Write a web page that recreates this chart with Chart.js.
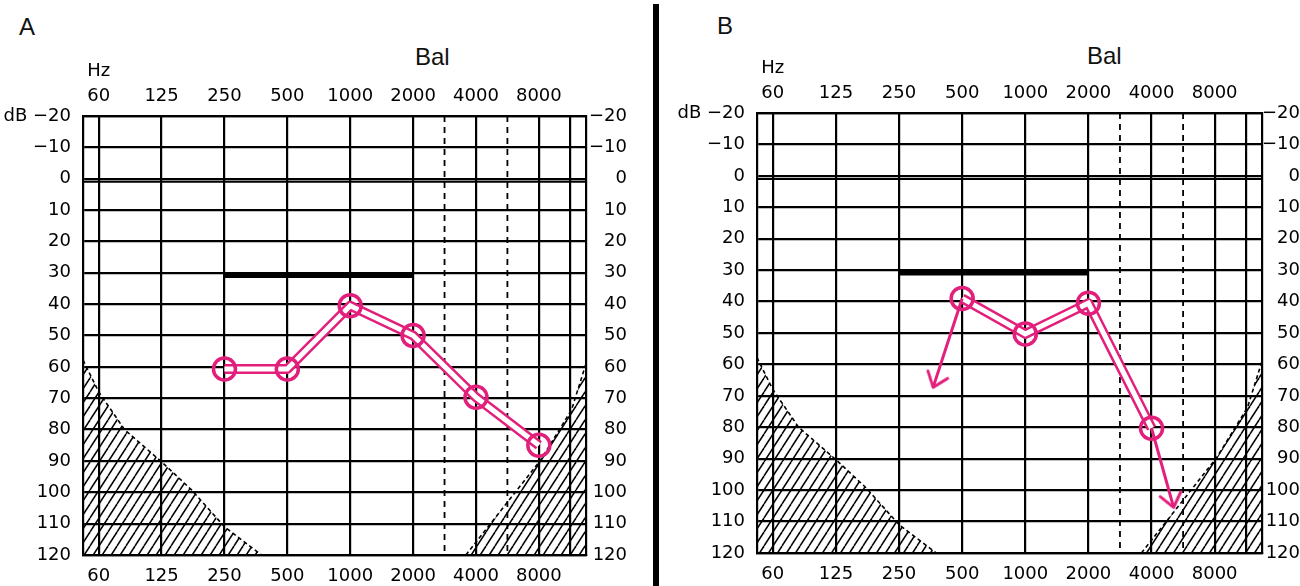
<!DOCTYPE html>
<html>
<head>
<meta charset="utf-8">
<script src="https://cdn.jsdelivr.net/npm/chart.js@4.4.1/dist/chart.umd.min.js"></script>
<style>
  body { margin: 0; background: #fff; width: 1300px; height: 586px; position: relative; overflow: hidden; font-family: 'Liberation Sans', Arial, sans-serif; }
  canvas { position: absolute; top: 0; }
  .lbl { position: absolute; font-size: 24px; line-height: 24px; color: #111; }
  #divider { position: absolute; left: 653px; top: 4px; width: 6px; height: 582px; background: #000; }
</style>
</head>
<body>
<div class="lbl" style="left:19px;top:15px">A</div>
<div class="lbl" style="left:415px;top:45px">Bal</div>
<div id="divider"></div>
<div class="lbl" style="left:717px;top:14px">B</div>
<div class="lbl" style="left:1087px;top:44px">Bal</div>
<canvas id="chartA" width="627" height="586" style="left:0"></canvas>
<canvas id="chartB" width="626" height="586" style="left:674px"></canvas>
<script>
// x positions are octave steps: 0 = 60 Hz ... 7 = 8000 Hz
const freqLabels = ['60', '125', '250', '500', '1000', '2000', '4000', '8000'];
const gridIdx = [0, 1, 2, 3, 4, 5, 6, 7, 7.5];
const dashedIdx = [5.5, 6.5];   // 3000 / 6000 Hz
const xMin = -0.25, xMax = 7.75;
const dbMin = -20, dbMax = 120;

// panel A thresholds
const aFreq = [2, 3, 4, 5, 6, 7];
const aDb = [60.7, 60.7, 40.5, 50, 69.7, 85];

// panel B thresholds
const bFreq = [3, 4, 5, 6];
const bDb = [39, 50.3, 40.5, 80.3];
// arrows (no response) leaving from point n of bFreq
const bArrowFrom = [0, 3];
const bArrowTipX = [2.54, 6.35];
const bArrowTipDb = [67.3, 105.5];

// thick band 250-2000 Hz
const bandFreq = [2, 5];
const bandDb = 30.8;

// hatched areas
const hatchLowX = [-0.25, 0, 0.41, 1, 1.48, 2, 2.59];
const hatchLowDb = [57.8, 68, 80, 90.3, 99.3, 111, 120];
const hatchHighX = [5.84, 6.37, 7.03, 7.52, 7.75];
const hatchHighDb = [120, 106.5, 89.7, 73.7, 59];

const PINK = '#e2207c';
const INK = '#000';
const FONT = { family: "'DejaVu Sans', sans-serif", size: 18 };

function hatchPattern() {
  const w = 9, h = 14;
  const c = document.createElement('canvas');
  c.width = w; c.height = h;
  const g = c.getContext('2d');
  g.strokeStyle = INK;
  g.lineWidth = 1.5;
  for (let n = 0; n <= 2; n++) {
    g.beginPath();
    g.moveTo((n - 1) * w, h);
    g.lineTo(n * w, 0);
    g.stroke();
  }
  return c.getContext('2d').createPattern(c, 'repeat');
}

function arrowHead() {
  const c = document.createElement('canvas');
  c.width = 44; c.height = 44;
  const g = c.getContext('2d');
  g.strokeStyle = PINK;
  g.lineWidth = 3;
  g.lineCap = 'round';
  g.lineJoin = 'round';
  g.beginPath();
  g.moveTo(22 - 10, 22 - 14);
  g.lineTo(22, 22);
  g.lineTo(22 + 11, 22 - 13);
  g.stroke();
  return c;
}

const pts = (xs, ys) => xs.map((x, i) => ({ x: x, y: Array.isArray(ys) ? ys[i] : ys }));
const dbText = v => (v < 0 ? '\u2212' + (-v) : String(v));

function buildChart(id, freq, db, arrows, box) {
  const pattern = hatchPattern();
  const head = arrowHead();
  const datasets = [
    { data: pts(freq, db), showLine: false, pointRadius: 11, pointBorderWidth: 3.5,
      pointBorderColor: PINK, pointBackgroundColor: 'rgba(0,0,0,0)', order: 0 },
    { data: pts(freq, db), borderColor: '#fff', borderWidth: 5, order: 2 },
    { data: pts(freq, db), borderColor: PINK, borderWidth: 10, borderJoinStyle: 'round', order: 3 },
    { data: pts(bandFreq, bandDb), borderColor: '#000', borderWidth: 5.5, order: 4 },
    { data: pts([xMin, xMax], 1), borderColor: INK, borderWidth: 2, order: 5 },
    { data: pts(hatchLowX, hatchLowDb), borderColor: INK, borderWidth: 1.6, borderDash: [4, 3],
      fill: { value: dbMax }, backgroundColor: pattern, order: 7 },
    { data: pts(hatchHighX, hatchHighDb), borderColor: INK, borderWidth: 1.6, borderDash: [4, 3],
      fill: { value: dbMax }, backgroundColor: pattern, order: 8 }
  ];
  dashedIdx.forEach(x => datasets.push({
    data: pts([x, x], [dbMin, dbMax]), borderColor: INK, borderWidth: 1.8, borderDash: [6, 5], order: 6
  }));
  arrows.forEach(a => datasets.push({
    data: [{ x: freq[a.from], y: db[a.from] }, { x: a.x, y: a.y }],
    borderColor: PINK, borderWidth: 3, order: 1,
    pointRadius: [0, 10], pointStyle: ['circle', head],
    rotation: ctx => {
      const sx = ctx.chart.scales.x, sy = ctx.chart.scales.y;
      const d = ctx.dataset.data;
      const dx = sx.getPixelForValue(d[1].x) - sx.getPixelForValue(d[0].x);
      const dy = sy.getPixelForValue(d[1].y) - sy.getPixelForValue(d[0].y);
      return Math.atan2(-dx, dy) * 180 / Math.PI;
    }
  }));

  const setTicks = s => { s.ticks = gridIdx.map(v => ({ value: v })); };
  return new Chart(document.getElementById(id), {
    type: 'line',
    data: { datasets: datasets },
    options: {
      responsive: false,
      animation: false,
      events: [],
      elements: { point: { radius: 0 }, line: { tension: 0, fill: false, borderCapStyle: 'butt' } },
      plugins: { legend: { display: false }, tooltip: { enabled: false } },
      scales: {
        x: {
          type: 'linear', position: 'bottom', min: xMin, max: xMax,
          afterBuildTicks: setTicks,
          afterFit: s => { s.height = box.bottom; },
          grid: { color: INK, lineWidth: 2.2, drawTicks: false },
          border: { color: INK, width: 2.2 },
          ticks: { autoSkip: false, maxRotation: 0, padding: 11, color: INK, font: FONT,
            callback: v => freqLabels[v] || '' }
        },
        x2: {
          type: 'linear', position: 'top', min: xMin, max: xMax,
          afterBuildTicks: setTicks,
          afterFit: s => { s.height = box.top; },
          grid: { drawOnChartArea: false, drawTicks: false },
          border: { color: INK, width: 2.2 },
          ticks: { autoSkip: false, maxRotation: 0, padding: 7, color: INK,
            font: Object.assign({ lineHeight: 1.4 }, FONT),
            callback: v => (v === 0 ? ['Hz', freqLabels[0]] : (freqLabels[v] || '')) }
        },
        y: {
          type: 'linear', position: 'left', min: dbMin, max: dbMax, reverse: true,
          afterFit: s => { s.width = box.left; },
          grid: { color: INK, lineWidth: 2.2, drawTicks: false },
          border: { color: INK, width: 2.2 },
          ticks: { stepSize: 10, padding: 12, color: INK, font: FONT,
            callback: v => (v === dbMin ? 'dB ' : '') + dbText(v) }
        },
        y2: {
          type: 'linear', position: 'right', min: dbMin, max: dbMax, reverse: true,
          afterFit: s => { s.width = box.right; },
          grid: { drawOnChartArea: false, drawTicks: false },
          border: { color: INK, width: 2.2 },
          ticks: { stepSize: 10, padding: 3, crossAlign: 'far', color: INK, font: FONT,
            callback: v => dbText(v) }
        }
      }
    }
  });
}

buildChart('chartA', aFreq, aDb, [], { left: 83, right: 41, top: 116, bottom: 31 });
buildChart('chartB', bFreq, bDb,
  bArrowFrom.map((f, i) => ({ from: f, x: bArrowTipX[i], y: bArrowTipDb[i] })),
  { left: 83, right: 38, top: 113, bottom: 33 });
</script>
</body>
</html>
